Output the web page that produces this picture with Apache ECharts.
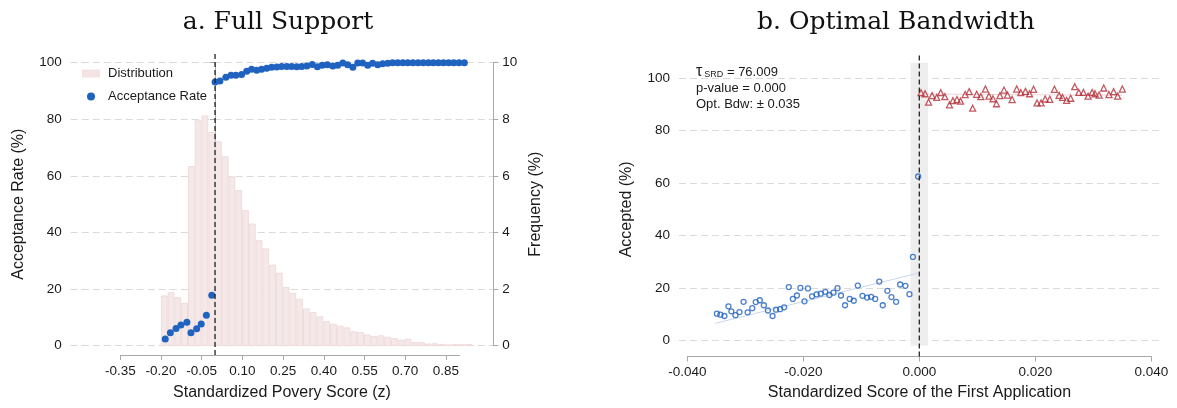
<!DOCTYPE html>
<html>
<head>
<meta charset="utf-8">
<script src="https://cdn.jsdelivr.net/npm/echarts@6.0.0/dist/echarts.min.js"></script>
<style>
html,body{margin:0;padding:0;background:#fff;}
#chart{width:1177px;height:408px;}
</style>
</head>
<body>
<div id="chart"></div>
<script>
// ---------- Panel a: Full Support ----------
const panelTitles = ['a. Full Support', 'b. Optimal Bandwidth'];
const binWidth = 0.025;
const histStarts = [-0.200,-0.175,-0.150,-0.125,-0.100,-0.075,-0.050,-0.025,0.000,0.025,
  0.050,0.075,0.100,0.125,0.150,0.175,0.200,0.225,0.250,0.275,
  0.300,0.325,0.350,0.375,0.400,0.425,0.450,0.475,0.500,0.525,
  0.550,0.575,0.600,0.625,0.650,0.675,0.700,0.725,0.750,0.775,
  0.800,0.825,0.850,0.875,0.900,0.925];
const histFreq = [1.76,1.87,1.70,1.50,6.33,7.95,8.12,7.53,7.21,6.68,
  5.97,5.48,4.77,4.30,3.71,3.42,2.85,2.56,2.06,1.85,
  1.64,1.30,1.17,1.02,0.85,0.76,0.69,0.63,0.49,0.47,
  0.38,0.32,0.35,0.30,0.25,0.20,0.23,0.11,0.11,0.06,
  0.07,0.04,0.03,0.04,0.04,0.04];
const rateZ = [-0.184,-0.165,-0.144,-0.126,-0.104,-0.089,-0.068,-0.051,-0.032,-0.012,
  0.000,0.018,0.040,0.059,0.077,0.098,0.117,0.135,0.154,0.172,
  0.191,0.209,0.228,0.246,0.265,0.283,0.302,0.320,0.339,0.359,
  0.378,0.396,0.415,0.435,0.453,0.472,0.490,0.509,0.527,0.545,
  0.564,0.582,0.601,0.619,0.638,0.656,0.675,0.694,0.712,0.731,
  0.750,0.769,0.788,0.806,0.825,0.844,0.863,0.882,0.901,0.921];
const rateVal = [2.4,4.6,6.1,7.3,8.3,4.6,6.0,7.7,10.8,17.8,
  93.2,93.5,94.9,95.6,95.6,95.8,97.0,97.7,97.3,97.7,
  98.0,98.4,98.5,98.7,98.7,98.7,98.6,98.7,98.8,99.4,
  98.6,99.1,99.3,98.8,99.1,99.9,99.3,98.4,99.9,99.9,
  99.1,99.8,99.3,99.6,99.8,100,100,100,100,100,
  100,100,100,100,100,100,100,100,100,100];
const cutoffA = 0;
const xTicksA = ['-0.35','-0.20','-0.05','0.10','0.25','0.40','0.55','0.70','0.85'];

// ---------- Panel b: Optimal Bandwidth ----------
const leftZ = [-0.0349,-0.0343,-0.0336,-0.0329,-0.0324,-0.0317,-0.0310,-0.0303,-0.0296,-0.0288,
  -0.0282,-0.0275,-0.0268,-0.0261,-0.0253,-0.0247,-0.0240,-0.0233,-0.0225,-0.0218,
  -0.0211,-0.0205,-0.0198,-0.0192,-0.0185,-0.0177,-0.0170,-0.0162,-0.0155,-0.0148,
  -0.0141,-0.0135,-0.0128,-0.0120,-0.0113,-0.0106,-0.0098,-0.0090,-0.0083,-0.0076,
  -0.0069,-0.0063,-0.0055,-0.0048,-0.0040,-0.0033,-0.0024,-0.0017,-0.0011,-0.0002];
const leftV = [10.3,9.9,9.4,13.1,11.2,9.7,10.9,14.8,10.8,12.4,
  14.7,15.4,13.5,11.5,9.4,11.8,12.0,12.7,20.4,15.9,
  17.2,20.1,15.0,19.9,16.9,17.6,17.9,18.6,17.4,18.3,
  20.0,17.2,13.5,15.9,15.2,21.0,17.1,16.4,16.7,15.9,
  22.5,13.5,19.0,16.6,14.8,21.4,20.9,17.7,31.9,62.5];
const rightZ = [0.0003,0.0010,0.0016,0.0022,0.0030,0.0037,0.0044,0.0052,0.0058,0.0065,
  0.0071,0.0079,0.0086,0.0092,0.0099,0.0106,0.0114,0.0120,0.0127,0.0133,
  0.0139,0.0146,0.0152,0.0160,0.0168,0.0175,0.0183,0.0190,0.0197,0.0203,
  0.0210,0.0217,0.0225,0.0233,0.0241,0.0247,0.0254,0.0261,0.0268,0.0275,
  0.0283,0.0291,0.0298,0.0303,0.0310,0.0318,0.0327,0.0335,0.0342,0.0350];
const rightV = [94.4,94.0,90.8,93.3,92.6,94.4,92.9,89.8,91.4,91.8,
  91.2,93.7,94.8,88.5,93.8,92.9,95.8,93.1,92.1,90.2,
  93.3,95.4,93.5,91.8,95.8,94.4,94.9,94.0,95.7,90.5,
  90.5,92.0,91.9,95.7,93.4,92.6,91.5,92.3,96.7,94.5,
  94.5,93.1,94.5,94.0,93.5,96.2,93.7,94.8,93.1,95.8];
const fitLeftZ = [-0.0352,-0.0002];
const fitLeftV = [6.6,25.7];
const fitRightZ = [0.0002,0.0350];
const fitRightV = [93.9,93.4];
const bandZ = [-0.0015,0.0015];
const bandV = [-1.9,105.8];
const cutoffB = 0;
const xTicksB = ['-0.040','-0.020','0.000','0.020','0.040'];
const annotation = {tau:'76.009', p:'0.000', bdw:'0.035'};

// ---------- styling ----------
const SANS = "'Liberation Sans', Arial, Helvetica, sans-serif";
const SERIF = "'DejaVu Serif', 'Liberation Serif', serif";
const AX = '#a8a8a8';
const TXT = '#1a1a1a';
const GRIDC = '#dadada';
const BLUE = '#2062c0';
const RED = '#b3303a';

function visAxisCommon() {
  return {
    axisLine:{show:true, lineStyle:{color:AX, width:1}},
    axisTick:{show:true, inside:false, length:5, lineStyle:{color:AX}},
    axisLabel:{color:TXT, fontSize:13.5, fontFamily:SANS, margin:9},
    splitLine:{show:false}
  };
}

const histData = histStarts.map((s,i)=>[s, histFreq[i]]);
const rateData = rateZ.map((z,i)=>[z, rateVal[i]]);

const option = {
  animation:false,
  backgroundColor:'#fff',
  title:[
    {text:panelTitles[0], left:278, top:10, textAlign:'center', padding:0,
     textStyle:{fontFamily:SERIF, fontSize:25, fontWeight:'normal', color:'#111'}},
    {text:panelTitles[1], left:896, top:10, textAlign:'center', padding:0,
     textStyle:{fontFamily:SERIF, fontSize:25, fontWeight:'normal', color:'#111'}}
  ],
  legend:{
    left:77, top:62, orient:'vertical', itemWidth:18, itemHeight:8, itemGap:10,
    selectedMode:false,
    textStyle:{fontSize:13, fontFamily:SANS, color:TXT, padding:[0,0,0,3]},
    data:[{name:'Distribution', icon:'rect'}, {name:'Acceptance Rate', icon:'circle'}]
  },
  grid:[
    {left:70.7, top:62.7, width:422.6, height:283, outerBoundsMode:'none'},
    {left:120.3, top:354, width:339.2, height:1, outerBoundsMode:'none'},
    {left:679, top:78, width:481, height:262.7, outerBoundsMode:'none'},
    {left:687.3, top:355.5, width:464, height:1, outerBoundsMode:'none'}
  ],
  xAxis:[
    {gridIndex:0, type:'value', min:-0.5332, max:1.0279,
     axisLine:{show:false}, axisTick:{show:false}, axisLabel:{show:false}, splitLine:{show:false},
     name:'Standardized Povery Score (z)', nameLocation:'middle', nameGap:39,
     nameTextStyle:{fontSize:16, fontFamily:SANS, color:TXT}},
    Object.assign(visAxisCommon(), {gridIndex:1, type:'value', min:-0.35, max:0.90,
     axisTick:{show:true, length:5, lineStyle:{color:AX}, customValues:xTicksA.map(Number)},
     axisLabel:{color:TXT, fontSize:13.5, fontFamily:SANS, margin:9,
       customValues:xTicksA.map(Number), formatter:(v)=>v.toFixed(2)}}),
    {gridIndex:2, type:'value', min:-0.04143, max:0.0415,
     axisLine:{show:false}, axisTick:{show:false}, axisLabel:{show:false}, splitLine:{show:false},
     name:'Standardized Score of the First Application', nameLocation:'middle', nameGap:44,
     nameTextStyle:{fontSize:16, fontFamily:SANS, color:TXT}},
    Object.assign(visAxisCommon(), {gridIndex:3, type:'value', min:-0.04, max:0.04,
     axisTick:{show:true, length:5, lineStyle:{color:AX}, customValues:xTicksB.map(Number)},
     axisLabel:{color:TXT, fontSize:13.5, fontFamily:SANS, margin:9,
       customValues:xTicksB.map(Number), formatter:(v)=>v.toFixed(3)}})
  ],
  yAxis:[
    Object.assign(visAxisCommon(), {gridIndex:0, type:'value', min:0, max:100, interval:20, position:'left',
     splitLine:{show:true, lineStyle:{color:GRIDC, type:[7,4], width:1}},
     name:'Acceptance Rate (%)', nameLocation:'middle', nameGap:44,
     nameTextStyle:{fontSize:16, fontFamily:SANS, color:TXT}}),
    Object.assign(visAxisCommon(), {gridIndex:0, type:'value', min:0, max:10, interval:2, position:'right',
     name:'Frequency (%)', nameLocation:'middle', nameGap:34,
     nameTextStyle:{fontSize:16, fontFamily:SANS, color:TXT}}),
    {gridIndex:1, type:'value', show:false, min:0, max:1},
    Object.assign(visAxisCommon(), {gridIndex:2, type:'value', min:0, max:100, interval:20, position:'left',
     splitLine:{show:true, lineStyle:{color:GRIDC, type:[7,4], width:1}},
     name:'Accepted (%)', nameLocation:'middle', nameGap:44,
     nameTextStyle:{fontSize:16, fontFamily:SANS, color:TXT}}),
    {gridIndex:3, type:'value', show:false, min:0, max:1}
  ],
  series:[
    {
      name:'Distribution', type:'custom', xAxisIndex:0, yAxisIndex:1, z:2,
      itemStyle:{color:'#f3e3e3', borderColor:'#ecd6d6'},
      encode:{x:0, y:1},
      data:histData,
      renderItem:function(params, api){
        const x0 = api.value(0), h = api.value(1);
        const p0 = api.coord([x0, 0]);
        const p1 = api.coord([x0 + binWidth, h]);
        return {type:'rect',
          shape:{x:p0[0]+0.5, y:p1[1], width:(p1[0]-p0[0])-1, height:p0[1]-p1[1]},
          style:{fill:'#f5e8e8', stroke:'#efdcdc', lineWidth:1}};
      }
    },
    {
      name:'Acceptance Rate', type:'scatter', xAxisIndex:0, yAxisIndex:0, z:4,
      symbol:'circle', symbolSize:7, itemStyle:{color:BLUE, opacity:1},
      data:rateData
    },
    {
      name:'cutoffA', type:'line', xAxisIndex:0, yAxisIndex:0, z:5, clip:false, silent:true,
      symbol:'none', lineStyle:{color:'#222', width:1.3, type:[5,3]},
      data:[[cutoffA,-3.3],[cutoffA,103.4]]
    },
    {
      name:'band', type:'custom', xAxisIndex:2, yAxisIndex:3, z:1, silent:true,
      data:[[bandZ[0], bandZ[1], bandV[0], bandV[1]]],
      renderItem:function(params, api){
        const a = api.coord([api.value(0), api.value(2)]);
        const b = api.coord([api.value(1), api.value(3)]);
        return {type:'rect', shape:{x:a[0], y:b[1], width:b[0]-a[0], height:a[1]-b[1]},
          style:{fill:'#eeeeee'}};
      }
    },
    {
      name:'fitLeft', type:'line', xAxisIndex:2, yAxisIndex:3, z:2, silent:true,
      symbol:'none', lineStyle:{color:'#c9d8ee', width:1},
      data:fitLeftZ.map((z,i)=>[z, fitLeftV[i]])
    },
    {
      name:'fitRight', type:'line', xAxisIndex:2, yAxisIndex:3, z:2, silent:true,
      symbol:'none', lineStyle:{color:'#f0d2d5', width:1},
      data:fitRightZ.map((z,i)=>[z, fitRightV[i]])
    },
    {
      name:'below', type:'scatter', xAxisIndex:2, yAxisIndex:3, z:4,
      symbol:'circle', symbolSize:5,
      itemStyle:{color:'rgba(255,255,255,0)', borderColor:BLUE, borderWidth:1.3},
      data:leftZ.map((z,i)=>[z, leftV[i]])
    },
    {
      name:'above', type:'scatter', xAxisIndex:2, yAxisIndex:3, z:4,
      symbol:'triangle', symbolSize:6,
      itemStyle:{color:'rgba(255,255,255,0)', borderColor:RED, borderWidth:1.3},
      data:rightZ.map((z,i)=>[z, rightV[i]])
    },
    {
      name:'cutoffB', type:'line', xAxisIndex:2, yAxisIndex:3, z:5, clip:false, silent:true,
      symbol:'none', lineStyle:{color:'#222', width:1.3, type:[5,3]},
      data:[[cutoffB,-6.0],[cutoffB,109.5]]
    }
  ],
  graphic:[
    {type:'text', x:696, y:64, z:10,
     style:{
       text:'{t|τ}{s|SRD}{n| = ' + annotation.tau + '}\n{n|p-value = ' + annotation.p + '}\n{n|Opt. Bdw: ± ' + annotation.bdw + '}',
       fill:TXT, font:'13px ' + SANS,
       rich:{
         t:{fontSize:16, fontFamily:SANS, fill:TXT, lineHeight:16},
         s:{fontSize:9, fontFamily:SANS, fill:TXT, lineHeight:16, padding:[5,0,0,2]},
         n:{fontSize:13, fontFamily:SANS, fill:TXT, lineHeight:16}
       }
     }}
  ]
};

const chart = echarts.init(document.getElementById('chart'), null, {renderer:'canvas'});
chart.setOption(option);
</script>
</body>
</html>
